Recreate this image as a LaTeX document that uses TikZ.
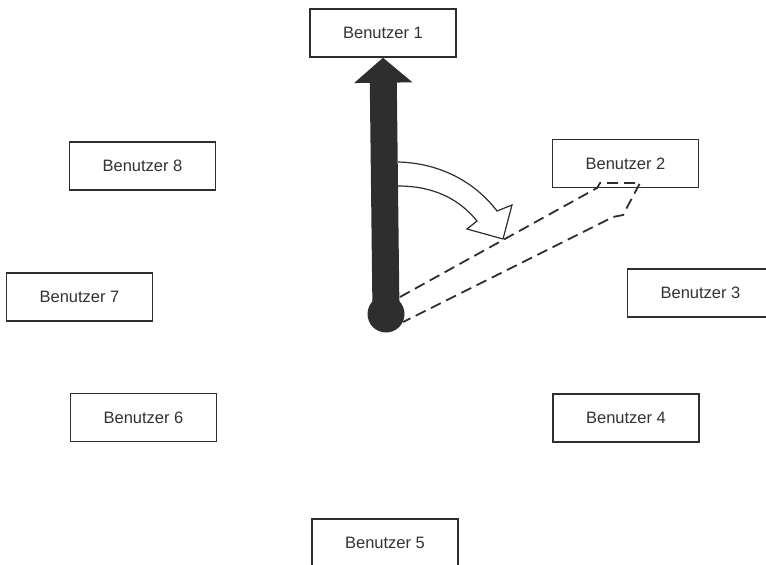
\documentclass[tikz,border=0pt]{standalone}
\usepackage{fontspec}
\setmainfont{Liberation Sans}
\usetikzlibrary{arrows.meta}

\definecolor{inkgray}{HTML}{2E2E2E}
\definecolor{textgray}{HTML}{333333}

\tikzset{
  userbox/.style={draw=inkgray, line width=1.4pt, fill=white, inner sep=0pt,
    minimum width=146pt, minimum height=48pt, text=textgray,
    font=\fontsize{16.5}{19}\selectfont},
  ghost/.style={draw=inkgray, line width=1.8pt, dash pattern=on 11pt off 6pt},
}

\begin{document}
\begin{tikzpicture}[x=1pt, y=-1pt]
  \useasboundingbox (0,0) rectangle (766,565);
  \clip (0,0) rectangle (766,565);

  % users round the clock
  \node[userbox] (b1) at (383,33)    {Benutzer 1};
  \node[userbox] (b2) at (625.5,163.5) {Benutzer 2};
  \node[userbox] (b3) at (700.5,293) {Benutzer 3};
  \node[userbox] (b4) at (626,418)   {Benutzer 4};
  \node[userbox] (b5) at (385,543)   {Benutzer 5};
  \node[userbox] (b6) at (143.5,417.5) {Benutzer 6};
  \node[userbox] (b7) at (79.5,297)  {Benutzer 7};
  \node[userbox] (b8) at (142.5,166) {Benutzer 8};

  \coordinate (hubc) at (386,314);

  % next position of the pointer
  \draw[ghost] (400,297) -- (597,188) -- (600,183) -- (640,183)
    -- (623,215) -- (613,217) -- (403,322);

  % pointer
  \draw[inkgray, line width=27pt, -{Triangle[width=57pt, length=25pt]}]
    (hubc) -- (b1.south);
  \node[circle, fill=inkgray, minimum size=37pt, inner sep=0pt] (hub) at (hubc) {};

  % turning
  \draw[inkgray, line width=1.2pt, fill=white, line join=miter]
    (398,162) .. controls (440,163) and (475,182) .. (497,211)
    -- (512,205) -- (503,239) -- (467,229) -- (477,221)
    .. controls (460,200) and (435,186) .. (398,186);
\end{tikzpicture}
\end{document}
